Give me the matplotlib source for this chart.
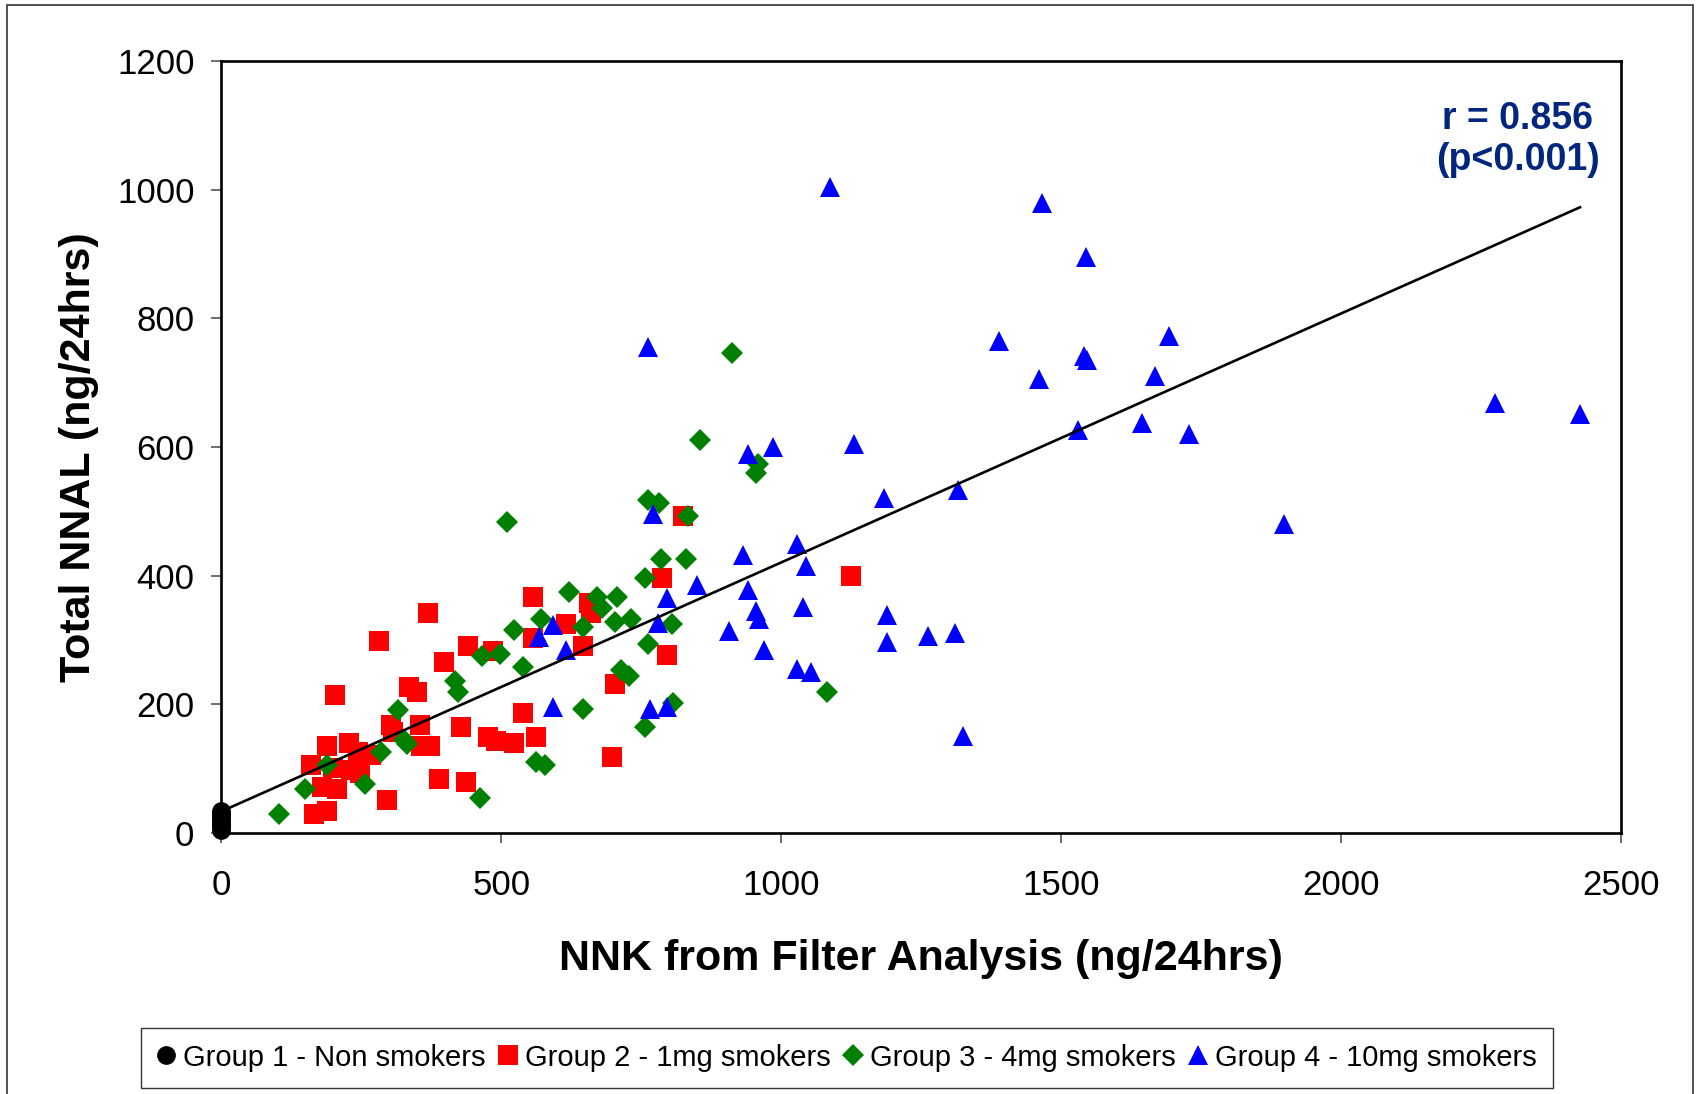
import matplotlib
matplotlib.use("Agg")
import matplotlib.pyplot as plt
from matplotlib.lines import Line2D
from matplotlib.patches import Rectangle

plt.rcParams["font.family"] = ["Liberation Sans", "DejaVu Sans"]

# Group 1 - non smokers (all at zero NNK)
g1_x = [0, 0, 0, 0, 0, 0, 0, 0, 0, 0]
g1_y = [4, 8, 11, 14, 17, 20, 24, 27, 30, 33]

# Group 2 - 1mg smokers
g2_x = [368, 282, 203, 557, 656, 660, 616, 557, 645, 786, 824, 796, 441, 485, 397,
        334, 349, 703, 538, 303, 306, 354, 427, 356, 373, 476, 491, 523, 562, 189,
        228, 243, 267, 159, 200, 231, 248, 179, 207, 165, 189, 295, 388, 437, 698,
        1125]
g2_y = [341, 298, 214, 366, 357, 341, 325, 302, 291, 396, 493, 277, 291, 282, 265,
        227, 219, 231, 186, 167, 157, 167, 164, 135, 135, 148, 143, 139, 148, 135,
        139, 126, 121, 105, 100, 97, 93, 71, 67, 29, 33, 51, 84, 79, 118,
        400]

# Group 3 - 4mg smokers
g3_x = [509, 761, 781, 834, 785, 829, 756, 621, 670, 707, 679, 702, 732, 804, 571,
        645, 523, 761, 466, 498, 538, 713, 728, 417, 422, 315, 645, 807, 756, 326,
        331, 285, 189, 150, 257, 562, 578, 102, 461, 911, 854, 959, 955, 1081]
g3_y = [484, 518, 513, 493, 425, 425, 396, 374, 367, 367, 349, 328, 332, 324, 333,
        320, 315, 294, 274, 278, 257, 253, 244, 236, 218, 190, 193, 202, 165, 144,
        138, 126, 105, 67, 75, 109, 105, 29, 54, 746, 611, 574, 560, 219]

# Group 4 - 10mg smokers
g4_x = [762, 941, 985, 1130, 771, 1184, 1315, 1028, 931, 1043, 849, 796, 941, 955,
        960, 1038, 1189, 1189, 1261, 1310, 907, 780, 592, 567, 616, 969, 1028, 1052,
        592, 766, 796, 1324, 1087, 1465, 1543, 1388, 1540, 1545, 1460, 1693, 1668,
        1529, 1644, 1727, 1897, 2275, 2426]
g4_y = [756, 589, 600, 605, 496, 521, 533, 449, 432, 415, 385, 365, 377, 344,
        333, 351, 339, 297, 306, 311, 314, 326, 323, 305, 284, 284, 254, 250,
        196, 192, 196, 151, 1005, 980, 896, 765, 742, 736, 706, 773, 710,
        626, 638, 621, 480, 669, 652]

group_labels = ["Group 1 - Non smokers", "Group 2 - 1mg smokers",
                "Group 3 - 4mg smokers", "Group 4 - 10mg smokers"]

# linear trend line
trend_intercept = 33
trend_slope = 0.3875
trend_x = [0, 2426]

x_ticks = [0, 500, 1000, 1500, 2000, 2500]
y_ticks = [0, 200, 400, 600, 800, 1000, 1200]

fig = plt.figure(figsize=(16.96, 10.94), dpi=100)
ax = fig.add_axes([0.1306, 0.239, 0.8254, 0.7048])

series = [
    (g1_x, g1_y, "o", "black", 13.5),
    (g2_x, g2_y, "s", "#ff0000", 14),
    (g3_x, g3_y, "D", "#008000", 11),
    (g4_x, g4_y, "^", "#0000ff", 14),
]
handles = []
for (xs, ys, mk, col, ms), lab in zip(series, group_labels):
    ax.plot(xs, ys, linestyle="none", marker=mk, color=col, markersize=ms,
            markeredgewidth=0, clip_on=False, zorder=3)
    handles.append(Line2D([], [], linestyle="none", marker=mk, color=col,
                          markersize=ms, markeredgewidth=0, label=lab))

ax.plot(trend_x, [trend_intercept + trend_slope * x for x in trend_x],
        color="black", lw=1.9, zorder=4)

ax.set_xlim(0, 2500)
ax.set_ylim(0, 1200)
ax.set_xticks(x_ticks)
ax.set_yticks(y_ticks)
for s in ax.spines.values():
    s.set_linewidth(1.9)
ax.tick_params(axis="both", direction="out", length=7.5, width=1.2,
               color="#555555", labelsize=25)
ax.tick_params(axis="x", pad=19)
ax.tick_params(axis="y", pad=12)

ax.set_xlabel("NNK from Filter Analysis (ng/24hrs)", fontsize=31, fontweight="bold")
ax.set_ylabel("Total NNAL (ng/24hrs)", fontsize=31, fontweight="bold")
ax.xaxis.set_label_coords(0.5, -0.138)
ax.yaxis.set_label_coords(-0.0873, 0.487)

ax.text(0.926, 0.899, "r = 0.856\n(p<0.001)", transform=ax.transAxes,
        ha="center", va="center", fontsize=27, fontweight="bold",
        color="#00267f", linespacing=1.2)

leg = fig.legend(handles=handles, loc="center", bbox_to_anchor=(0.4994, 0.0332),
                 ncol=4, fontsize=21, frameon=True, fancybox=False,
                 handlelength=0.6, handletextpad=0.3, columnspacing=0.45,
                 borderpad=0.55)
leg.get_frame().set_edgecolor("black")
leg.get_frame().set_linewidth(1.0)

# outer chart-area border
fig.patches.append(Rectangle((0.0043, -0.01), 0.9939, 1.0057, transform=fig.transFigure,
                             fill=False, edgecolor="#333333", linewidth=1.2))

fig.savefig("out.png", dpi=100)
